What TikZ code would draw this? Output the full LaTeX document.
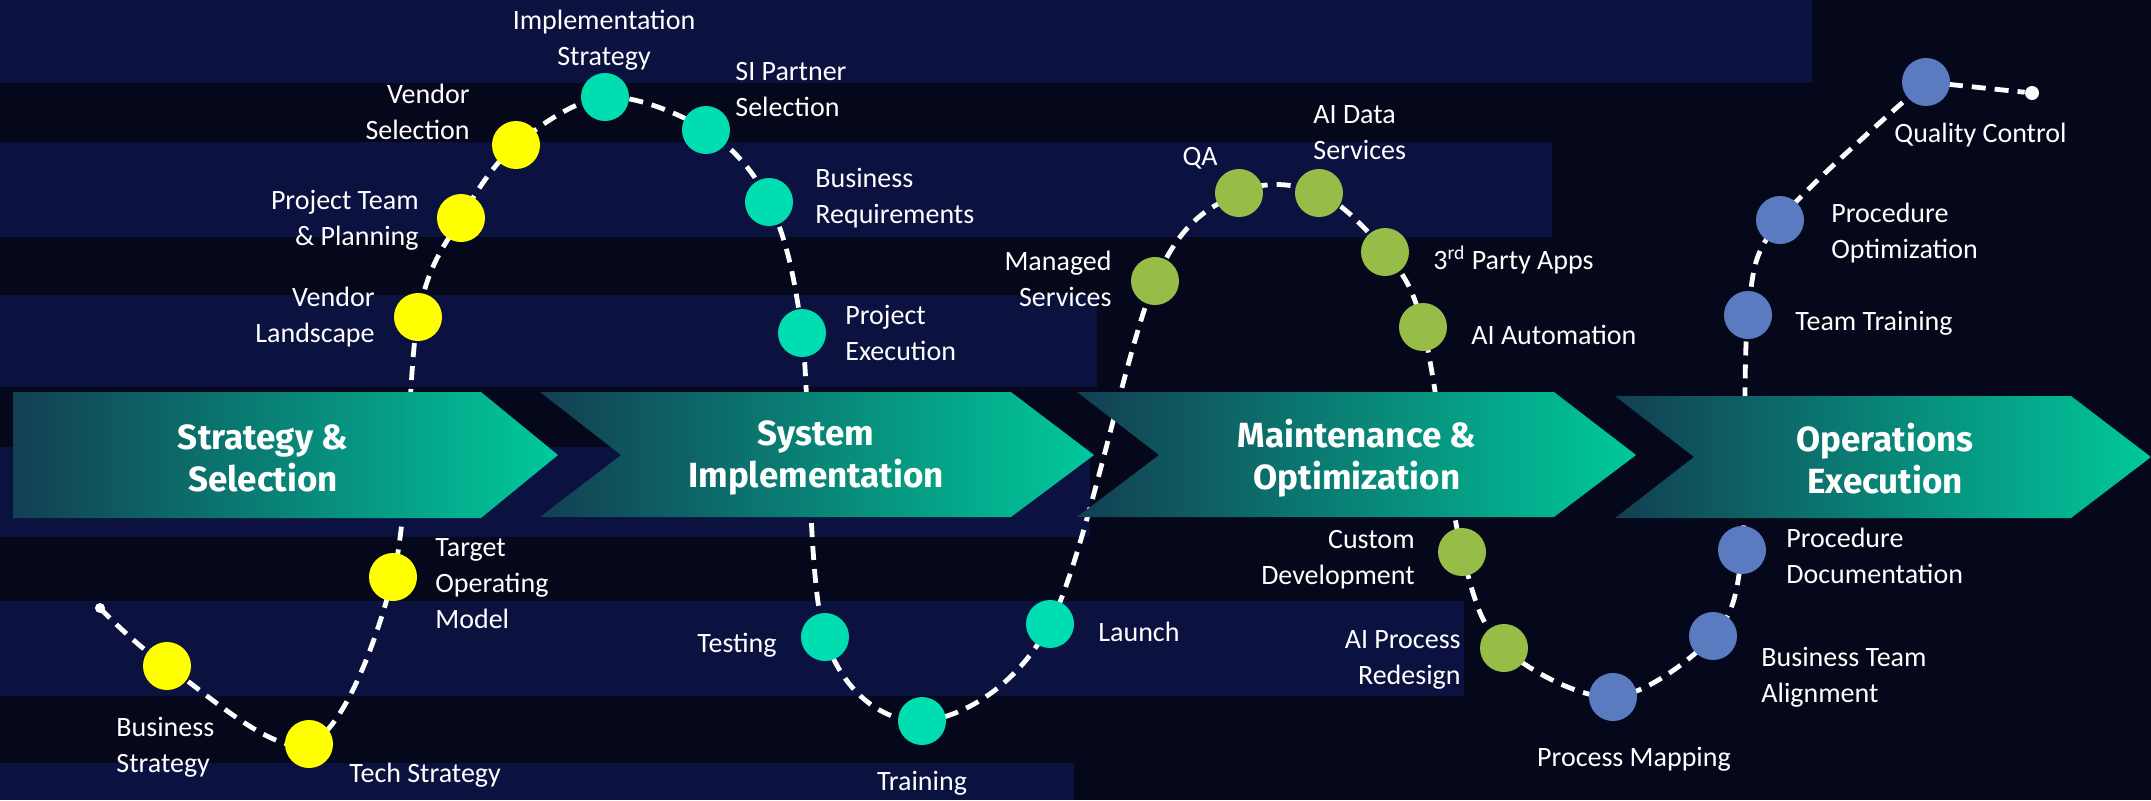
\documentclass[tikz,border=0pt]{standalone}
\usepackage{fontspec}
\setmainfont{Carlito}
\newfontfamily\headfont{Fira Sans}

\definecolor{bgdark}{HTML}{05071A}
\definecolor{bandnavy}{HTML}{0B1240}
\definecolor{dotyellow}{HTML}{FFFF00}
\definecolor{dotteal}{HTML}{00DDB0}
\definecolor{dotgreen}{HTML}{97BC47}
\definecolor{dotblue}{HTML}{5A7BC0}
\definecolor{chevdark}{HTML}{123F52}
\definecolor{chevlight}{HTML}{00C99C}

\pgfdeclarelayer{bands}
\pgfdeclarelayer{curve}
\pgfdeclarelayer{chev}
\pgfsetlayers{bands,curve,chev,main}

\begin{document}
\begin{tikzpicture}[x=0.5pt,y=-0.5pt,
    dot/.style={circle,minimum size=24pt,inner sep=0pt},
    lbl/.style={text=white,inner sep=0pt,font=\fontsize{14}{18}\selectfont},
    head/.style={text=white,align=center,font=\headfont\bfseries\fontsize{17.5}{21}\selectfont},
    trail/.style={white,line width=2.4pt,dash pattern=on 7pt off 4.5pt}]
  \useasboundingbox (0,0) rectangle (2151,800);
  \begin{pgfonlayer}{bands}
    \fill[bgdark] (0,0) rectangle (2151,800);
    \fill[bandnavy] (0,0) rectangle (1812,83);
    \fill[bandnavy] (0,142) rectangle (1552,237);
    \fill[bandnavy] (0,295) rectangle (1097,387);
    \fill[bandnavy] (0,447) rectangle (1090,537);
    \fill[bandnavy] (0,601) rectangle (1464,696);
    \fill[bandnavy] (0,763) rectangle (1074,800);
  \end{pgfonlayer}

  \begin{pgfonlayer}{chev}
    \shade[left color=chevdark,right color=chevlight]
      (13,392) -- (481,392) -- (558,455) -- (481,518) -- (13,518) -- cycle;
    \shade[left color=chevdark,right color=chevlight]
      (540,392) -- (1011,392) -- (1094,455) -- (1011,517) -- (540,517) -- (621,455) -- cycle;
    \shade[left color=chevdark,right color=chevlight]
      (1077,392) -- (1554,392) -- (1636,455) -- (1554,517) -- (1077,517) -- (1159,455) -- cycle;
    \shade[left color=chevdark,right color=chevlight]
      (1615,396) -- (2071,396) -- (2151,457) -- (2071,518) -- (1615,518) -- (1694,457) -- cycle;
  \end{pgfonlayer}
  \node[head] (h1) at (263,458) {Strategy \&\\Selection};
  \node[head] (h2) at (816,458) {System\\Implementation};
  \node[head] (h3) at (1357,458) {Maintenance \&\\Optimization};
  \node[head] (h4) at (1885,459) {Operations\\Execution};

  \node[circle,fill=white,minimum size=5pt,inner sep=0pt] (start) at (100,608) {};
  \node[circle,fill=white,minimum size=7pt,inner sep=0pt] (end) at (2032,93) {};

  \node[dot,fill=dotyellow] (bs) at (167,666) {};
  \node[dot,fill=dotyellow] (ts) at (309,744) {};
  \node[dot,fill=dotyellow] (tom) at (393,577) {};
  \node[dot,fill=dotyellow] (vl) at (418,317) {};
  \node[dot,fill=dotyellow] (ptp) at (461,218) {};
  \node[dot,fill=dotyellow] (vs) at (516,145) {};
  \node[dot,fill=dotteal] (is) at (605,97) {};
  \node[dot,fill=dotteal] (sip) at (706,130) {};
  \node[dot,fill=dotteal] (br) at (769,202) {};
  \node[dot,fill=dotteal] (pe) at (802,333) {};
  \node[dot,fill=dotteal] (te) at (825,637) {};
  \node[dot,fill=dotteal] (tr) at (922,721) {};
  \node[dot,fill=dotteal] (la) at (1050,624) {};
  \node[dot,fill=dotgreen] (ms) at (1155,281) {};
  \node[dot,fill=dotgreen] (qa) at (1239,193) {};
  \node[dot,fill=dotgreen] (ads) at (1319,193) {};
  \node[dot,fill=dotgreen] (tpa) at (1385,252) {};
  \node[dot,fill=dotgreen] (aa) at (1423,327) {};
  \node[dot,fill=dotgreen] (cd) at (1462,552) {};
  \node[dot,fill=dotgreen] (apr) at (1504,648) {};
  \node[dot,fill=dotblue] (pm) at (1613,697) {};
  \node[dot,fill=dotblue] (bta) at (1713,636) {};
  \node[dot,fill=dotblue] (pd) at (1742,550) {};
  \node[dot,fill=dotblue] (tt) at (1748,315) {};
  \node[dot,fill=dotblue] (po) at (1780,220) {};
  \node[dot,fill=dotblue] (qc) at (1926,82) {};

  \begin{pgfonlayer}{curve}
    \draw[trail] plot[smooth,tension=0.55] coordinates {(start) (bs) (ts) (tom) (vl) (ptp) (vs)
      (is) (sip) (br) (pe) (te) (tr) (la) (ms) (qa) (ads) (tpa) (aa) (cd) (apr)
      (pm) (bta) (pd) (tt) (po) (qc)};
    \draw[trail] (qc.center) -- (end);
  \end{pgfonlayer}

  \node[lbl,align=left,anchor=west] (lbs) at (116,747) {Business\\Strategy};
  \node[lbl,anchor=west] (lts) at (349,775) {Tech Strategy};
  \node[lbl,align=left,anchor=west] (ltom) at (435,584) {Target\\Operating\\Model};
  \node[lbl,align=right,anchor=east] (lvl) at (375,317) {Vendor\\Landscape};
  \node[lbl,align=right,anchor=east] (lptp) at (419,220) {Project Team\\\& Planning};
  \node[lbl,align=right,anchor=east] (lvs) at (470,112) {Vendor\\Selection};
  \node[lbl,align=center] (lis) at (604,40) {Implementation\\Strategy};
  \node[lbl,align=left,anchor=west] (lsip) at (735,90) {SI Partner\\Selection};
  \node[lbl,align=left,anchor=west] (lbr) at (815,198) {Business\\Requirements};
  \node[lbl,align=left,anchor=west] (lpe) at (845,333) {Project\\Execution};
  \node[lbl,anchor=east] (lte) at (777,645) {Testing};
  \node[lbl] (ltr) at (922,783) {Training};
  \node[lbl,anchor=west] (lla) at (1098,632) {Launch};
  \node[lbl,align=right,anchor=east] (lms) at (1112,279) {Managed\\Services};
  \node[lbl,anchor=east] (lqa) at (1218,158) {QA};
  \node[lbl,align=left,anchor=west] (lads) at (1313,133) {AI Data\\Services};
  \node[lbl,anchor=west] (ltpa) at (1433,260) {3\textsuperscript{rd} Party Apps};
  \node[lbl,anchor=west] (laa) at (1471,335) {AI Automation};
  \node[lbl,align=right,anchor=east] (lcd) at (1415,560) {Custom\\Development};
  \node[lbl,align=right,anchor=east] (lapr) at (1461,660) {AI Process\\Redesign};
  \node[lbl] (lpm) at (1634,759) {Process Mapping};
  \node[lbl,align=left,anchor=west] (lbta) at (1761,677) {Business Team\\Alignment};
  \node[lbl,align=left,anchor=west] (lpd) at (1786,556) {Procedure\\Documentation};
  \node[lbl,anchor=west] (ltt) at (1795,323) {Team Training};
  \node[lbl,align=left,anchor=west] (lpo) at (1831,233) {Procedure\\Optimization};
  \node[lbl,anchor=west] (lqc) at (1894,135) {Quality Control};
\end{tikzpicture}
\end{document}
